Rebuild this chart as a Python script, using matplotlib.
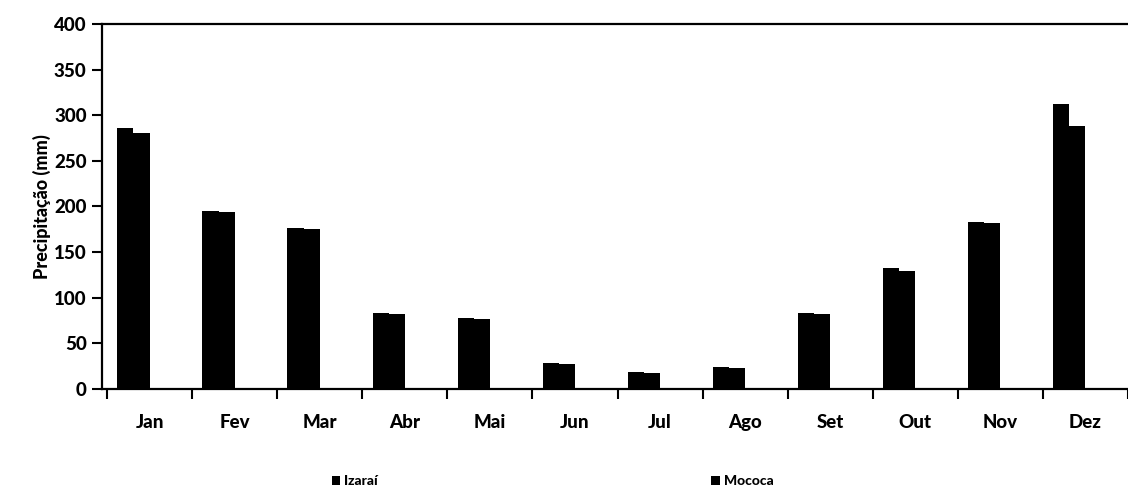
import matplotlib.pyplot as plt
import numpy as np

# precipitação mensal (mm)
meses = ['Jan', 'Fev', 'Mar', 'Abr', 'Mai', 'Jun', 'Jul', 'Ago', 'Set', 'Out', 'Nov', 'Dez']
izarai = [286, 195, 176, 83, 78, 28, 19, 24, 83, 133, 183, 312]
mococa = [281, 194, 175, 82, 77, 27, 18, 23, 82, 129, 182, 288]

plt.rcParams['font.family'] = ['Lato', 'DejaVu Sans']

fig = plt.figure(figsize=(11.28, 4.94), dpi=100)
ax = fig.add_axes([0.0904, 0.2126, 0.9096, 0.7388])

x = np.arange(len(meses))
larg = 0.19
ax.bar(x - 1.5 * larg, izarai, larg, color='black', label='Izaraí')
ax.bar(x - 0.5 * larg, mococa, larg, color='black', label='Mococa')

ax.set_ylim(0, 400)
ax.set_xlim(-0.56, 11.25)
ax.set_yticks(range(0, 401, 50))
ax.set_xticks(x)
ax.set_xticklabels(meses)
ax.set_xticks(np.arange(-0.5, 12, 1), minor=True)
ax.tick_params(axis='x', which='major', length=0, pad=18, labelsize=13.5)
ax.tick_params(axis='x', which='minor', length=7, width=1.5, direction='out')
ax.tick_params(axis='y', length=7, width=1.5, direction='out', labelsize=13.5, pad=4)
for t in ax.get_xticklabels() + ax.get_yticklabels():
    t.set_fontweight('black')

ax.spines['right'].set_visible(False)
for s in ['left', 'bottom', 'top']:
    ax.spines[s].set_linewidth(1.6)

ax.set_ylabel('Precipitação (mm)', fontsize=13, fontweight='black', labelpad=2)

fig.legend(loc='lower left', bbox_to_anchor=(0.283, -0.012), ncol=2, frameon=False,
           handlelength=0.6, handleheight=0.6, handletextpad=0.3,
           columnspacing=24, prop={'weight': 'black', 'size': 10})

plt.savefig('out.png', dpi=100)
